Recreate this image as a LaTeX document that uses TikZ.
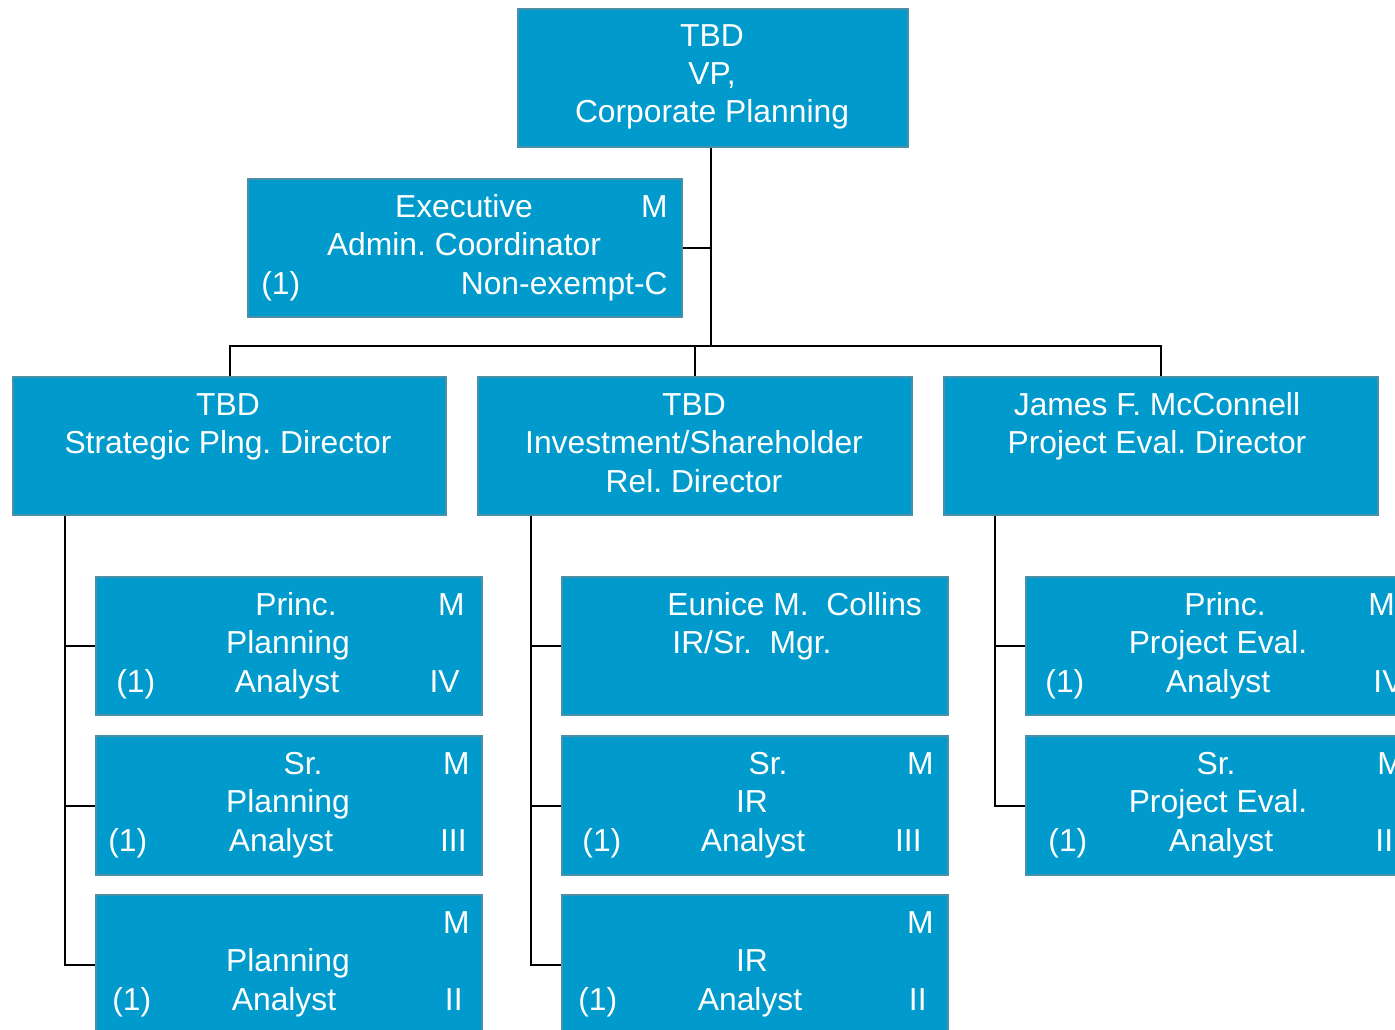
\documentclass[tikz,border=0pt]{standalone}
\usepackage{fontspec}
\setmainfont{Liberation Sans}
\usepackage{tikz}
\usetikzlibrary{calc}
\frenchspacing

\definecolor{boxblue}{RGB}{0,155,204}
\definecolor{boxedge}{RGB}{74,144,168}

\tikzset{
  posbox/.style={draw=boxedge, line width=1pt, fill=boxblue, rectangle, inner sep=0pt, anchor=north west, minimum width=#1},
  posbox/.default=193pt,
  lbl/.style={text=white, inner sep=0pt, anchor=base, font=\fontsize{15.9}{19}\selectfont},
  lbll/.style={lbl, anchor=base west},
  lblr/.style={lbl, anchor=base east},
  link/.style={draw=black, line width=1pt}
}

\begin{document}
\begin{tikzpicture}[x=0.5pt,y=0.5pt,yscale=-1,xscale=1]
\useasboundingbox (0,0) rectangle (1395,1029);
\clip (0,0) rectangle (1395,1029);

%Box: VP
\node[posbox=195pt, minimum height=69pt] (vp) at (517,8) {};
\node[lbl] (vpA) at (712,46) {TBD};
\node[lbl] (vpB) at (712,84) {VP,};
\node[lbl] (vpC) at (712,122) {Corporate Planning};

%Box: executive coordinator
\node[posbox=217pt, minimum height=69pt] (exec) at (247,178) {};
\node[lbl] (execA) at (464,217) {Executive};
\node[lblr] (execM) at (668,217) {M};
\node[lbl] (execB) at (464,255) {Admin. Coordinator};
\node[lbll] (execN) at (261,294) {(1)};
\node[lblr] (execC) at (668,294) {Non-exempt-C};

%Box: directors
\node[posbox=216.5pt, minimum height=69pt] (strat) at (12,376) {};
\node[lbl] (stratA) at (228,415) {TBD};
\node[lbl] (stratB) at (228,453) {Strategic Plng. Director};

\node[posbox=217pt, minimum height=69pt] (invest) at (477,376) {};
\node[lbl] (investA) at (694,415) {TBD};
\node[lbl] (investB) at (694,453) {Investment/Shareholder};
\node[lbl] (investC) at (694,492) {Rel. Director};

\node[posbox=217pt, minimum height=69pt] (james) at (943,376) {};
\node[lbl] (jamesA) at (1157,415) {James F. McConnell};
\node[lbl] (jamesB) at (1157,453) {Project Eval. Director};

%Box: planning analysts
\node[posbox, minimum height=69pt] (pa1) at (95,576) {};
\node[lbl] (pa1A) at (296,615) {Princ.};
\node[lblr] (pa1M) at (465,615) {M};
\node[lbl] (pa1B) at (288,653) {Planning};
\node[lbll] (pa1N) at (116,692) {(1)};
\node[lbl] (pa1C) at (287,692) {Analyst};
\node[lblr] (pa1G) at (460,692) {IV};

\node[posbox, minimum height=69.5pt] (pa2) at (95,735) {};
\node[lbl] (pa2A) at (303,774) {Sr.};
\node[lblr] (pa2M) at (470,774) {M};
\node[lbl] (pa2B) at (288,812) {Planning};
\node[lbll] (pa2N) at (108,851) {(1)};
\node[lbl] (pa2C) at (281,851) {Analyst};
\node[lblr] (pa2G) at (467,851) {III};

\node[posbox, minimum height=70pt] (pa3) at (95,894) {};
\node[lblr] (pa3M) at (470,933) {M};
\node[lbl] (pa3B) at (288,971) {Planning};
\node[lbll] (pa3N) at (112,1010) {(1)};
\node[lbl] (pa3C) at (284,1010) {Analyst};
\node[lblr] (pa3G) at (463,1010) {II};

%Box: IR staff
\node[posbox, minimum height=69pt] (ir1) at (561,576) {};
\node[lbll] (ir1A) at (667,615) {Eunice M.\ \ Collins};
\node[lbll] (ir1B) at (672,653) {IR/Sr.\ \ Mgr.};

\node[posbox, minimum height=69.5pt] (ir2) at (561,735) {};
\node[lbl] (ir2A) at (768,774) {Sr.};
\node[lblr] (ir2M) at (934,774) {M};
\node[lbl] (ir2B) at (752,812) {IR};
\node[lbll] (ir2N) at (582,851) {(1)};
\node[lbl] (ir2C) at (753,851) {Analyst};
\node[lblr] (ir2G) at (922,851) {III};

\node[posbox, minimum height=70pt] (ir3) at (561,894) {};
\node[lblr] (ir3M) at (934,933) {M};
\node[lbl] (ir3B) at (752,971) {IR};
\node[lbll] (ir3N) at (578,1010) {(1)};
\node[lbl] (ir3C) at (750,1010) {Analyst};
\node[lblr] (ir3G) at (927,1010) {II};

%Box: project evaluation analysts
\node[posbox, minimum height=69pt] (pe1) at (1025,576) {};
\node[lbl] (pe1A) at (1225,615) {Princ.};
\node[lbll] (pe1M) at (1368,615) {M};
\node[lbl] (pe1B) at (1218,653) {Project Eval.};
\node[lbll] (pe1N) at (1045,692) {(1)};
\node[lbl] (pe1C) at (1218,692) {Analyst};
\node[lbll] (pe1G) at (1373,692) {IV};

\node[posbox, minimum height=69.5pt] (pe2) at (1025,735) {};
\node[lbl] (pe2A) at (1216,774) {Sr.};
\node[lbll] (pe2M) at (1377,774) {M};
\node[lbl] (pe2B) at (1218,812) {Project Eval.};
\node[lbll] (pe2N) at (1048,851) {(1)};
\node[lbl] (pe2C) at (1221,851) {Analyst};
\node[lbll] (pe2G) at (1375,851) {III};

%Lines
\coordinate (bus) at (711,346);
\draw[link] (vp.south -| bus) -- (bus);
\draw[link] (exec.east) -- (exec.east -| bus);
\draw[link] (strat.north) |- (bus) -| (james.north);
\draw[link] (invest.north) -- (invest.north |- bus);

\draw[link] ($(pa1.west |- strat.south)+(-30,0)$) |- (pa3.west);
\draw[link] (pa1.west) -- ++(-30,0);
\draw[link] (pa2.west) -- ++(-30,0);

\draw[link] ($(ir1.west |- invest.south)+(-30,0)$) |- (ir3.west);
\draw[link] (ir1.west) -- ++(-30,0);
\draw[link] (ir2.west) -- ++(-30,0);

\draw[link] ($(pe1.west |- james.south)+(-30,0)$) |- (pe2.west);
\draw[link] (pe1.west) -- ++(-30,0);
\end{tikzpicture}
\end{document}
